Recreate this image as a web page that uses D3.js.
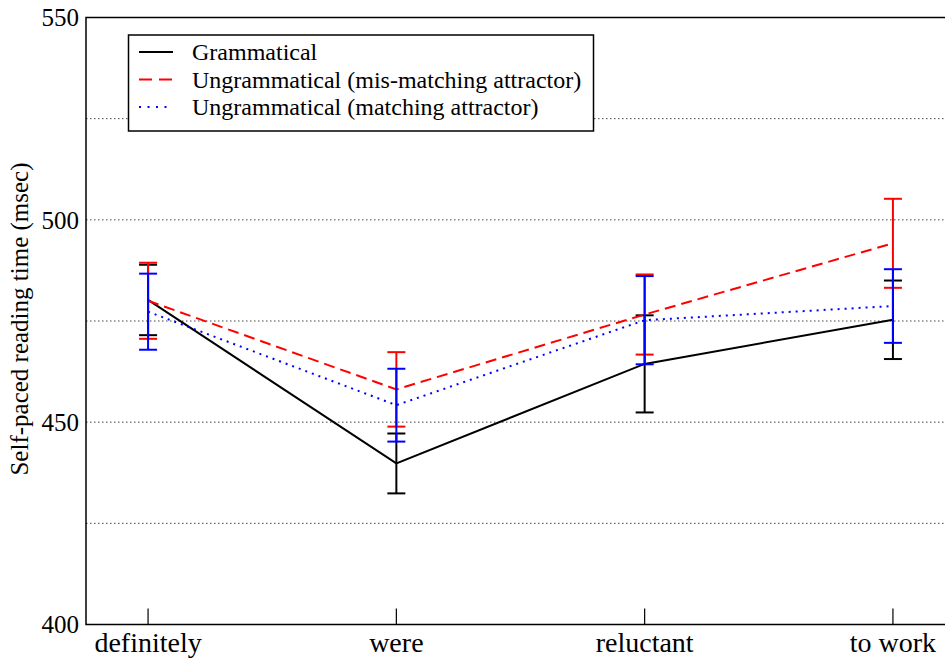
<!DOCTYPE html>
<html lang="en">
<head>
  <meta charset="UTF-8">
  <title>Self-paced reading time</title>
  <script src="https://d3js.org/d3.v7.min.js"></script>
  <style>
    body { margin: 0; background: #fff; }
    svg { display: block; font-family: "Liberation Serif", "Times New Roman", serif; }
  </style>
</head>
<body>
  <svg width="945" height="661"></svg>
  <script>
    // data
    var categories = ["definitely", "were", "reluctant", "to work"];
    var grammatical = [480.2, 439.8, 464.4, 475.3];
    var grammaticalErr = [8.7, 7.4, 12.0, 9.7];
    var misMatching = [480.0, 458.1, 476.6, 494.2];
    var misMatchingErr = [9.4, 9.2, 9.9, 11.0];
    var matching = [477.3, 454.2, 475.2, 478.7];
    var matchingErr = [9.4, 9.0, 10.9, 9.1];
    var yTicks = [400, 450, 500, 550];
    var gridTicks = [425, 450, 475, 500, 525];

    var series = [
      { name: "Grammatical", values: grammatical, err: grammaticalErr, color: "#000000", dash: null, legendDash: null },
      { name: "Ungrammatical (mis-matching attractor)", values: misMatching, err: misMatchingErr, color: "#ff0000", dash: "11,6", legendDash: "13,7" },
      { name: "Ungrammatical (matching attractor)", values: matching, err: matchingErr, color: "#0000ff", dash: "2,5", legendDash: "2,6.5" }
    ];

    var plotLeft = 86, plotTop = 17.5, plotBottom = 624.5, plotRight = 955;
    var svg = d3.select("svg");

    var x = d3.scalePoint().domain(categories).range([plotLeft, plotRight]).padding(0.25);
    var y = d3.scaleLinear().domain([400, 550]).range([plotBottom, plotTop]);

    // dotted grid
    svg.append("g").selectAll("line")
      .data(gridTicks)
      .enter().append("line")
      .attr("x1", plotLeft).attr("x2", plotRight)
      .attr("y1", function(d) { return y(d); })
      .attr("y2", function(d) { return y(d); })
      .attr("stroke", "#444")
      .attr("stroke-width", 1)
      .attr("stroke-dasharray", "1.5,2.5");

    // frame: left, top, bottom
    svg.append("path")
      .attr("d", "M" + plotRight + "," + plotTop + "H" + plotLeft + "V" + plotBottom + "H" + plotRight)
      .attr("fill", "none")
      .attr("stroke", "#000")
      .attr("stroke-width", 1.5);

    // y tick labels
    svg.append("g").selectAll("text")
      .data(yTicks)
      .enter().append("text")
      .attr("x", 79)
      .attr("y", function(d) { return y(d); })
      .attr("dy", "0.35em")
      .attr("text-anchor", "end")
      .style("font-size", "25px")
      .text(function(d) { return d; });

    // x ticks (inward) and labels
    var xt = svg.append("g").selectAll("g")
      .data(categories)
      .enter().append("g")
      .attr("transform", function(d) { return "translate(" + x(d) + ",0)"; });
    xt.append("line")
      .attr("y1", plotBottom).attr("y2", plotBottom - 16)
      .attr("stroke", "#000").attr("stroke-width", 1.2);
    xt.append("text")
      .attr("y", 652)
      .attr("text-anchor", "middle")
      .style("font-size", "28px")
      .text(function(d) { return d; });

    // y axis title
    svg.append("text")
      .attr("transform", "translate(28," + ((plotTop + plotBottom) / 2 - 2) + ") rotate(-90)")
      .attr("text-anchor", "middle")
      .style("font-size", "25px")
      .text("Self-paced reading time (msec)");

    // lines and error bars
    var line = d3.line()
      .x(function(d, i) { return x(categories[i]); })
      .y(function(d) { return y(d); });

    series.forEach(function(s) {
      var g = svg.append("g");
      g.append("path")
        .attr("d", line(s.values))
        .attr("fill", "none")
        .attr("stroke", s.color)
        .attr("stroke-width", 2)
        .attr("stroke-dasharray", s.dash);
      var eb = g.selectAll(".eb")
        .data(s.values)
        .enter().append("g")
        .attr("class", "eb")
        .attr("stroke", s.color)
        .attr("stroke-width", 2);
      eb.append("line")
        .attr("x1", function(d, i) { return x(categories[i]); })
        .attr("x2", function(d, i) { return x(categories[i]); })
        .attr("y1", function(d, i) { return y(d - s.err[i]); })
        .attr("y2", function(d, i) { return y(d + s.err[i]); });
      [-1, 1].forEach(function(sign) {
        eb.append("line")
          .attr("x1", function(d, i) { return x(categories[i]) - 9; })
          .attr("x2", function(d, i) { return x(categories[i]) + 9; })
          .attr("y1", function(d, i) { return y(d + sign * s.err[i]); })
          .attr("y2", function(d, i) { return y(d + sign * s.err[i]); });
      });
    });

    // legend
    var legend = svg.append("g");
    legend.append("rect")
      .attr("x", 128.5).attr("y", 35)
      .attr("width", 465).attr("height", 96)
      .attr("fill", "#fff")
      .attr("stroke", "#000")
      .attr("stroke-width", 1.5);
    var rows = legend.selectAll(".row")
      .data(series)
      .enter().append("g")
      .attr("class", "row")
      .attr("transform", function(d, i) { return "translate(0," + (52 + i * 27.5) + ")"; });
    rows.append("line")
      .attr("x1", 139).attr("x2", 173)
      .attr("stroke", function(d) { return d.color; })
      .attr("stroke-width", 2)
      .attr("stroke-dasharray", function(d) { return d.legendDash; });
    rows.append("text")
      .attr("x", 192)
      .attr("dy", "0.35em")
      .style("font-size", "24px")
      .text(function(d) { return d.name; });
  </script>
</body>
</html>
